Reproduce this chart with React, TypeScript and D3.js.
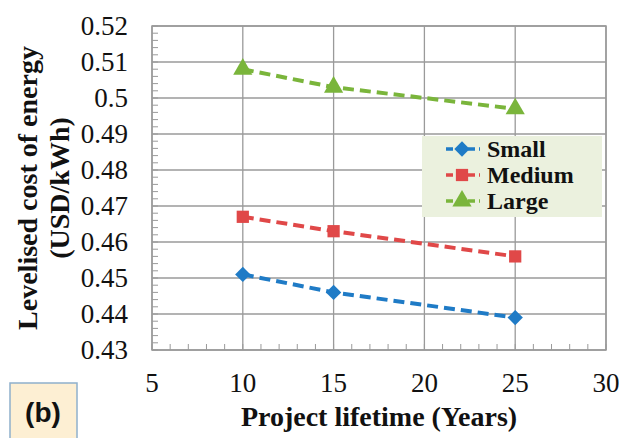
import React from "react";
import * as d3 from "d3";

// Project lifetime (years) and levelised cost of energy (USD/kWh)
const lifetimes = [10, 15, 25];
const smallCost = [0.451, 0.446, 0.439];
const mediumCost = [0.467, 0.463, 0.456];
const largeCost = [0.508, 0.503, 0.497];
const xTicks = [5, 10, 15, 20, 25, 30];
const yTicks = [0.43, 0.44, 0.45, 0.46, 0.47, 0.48, 0.49, 0.5, 0.51, 0.52];
const seriesNames = ["Small", "Medium", "Large"];

const W = 619;
const H = 438;
const plot = { left: 152, right: 606, top: 26, bottom: 350 };

const x = d3.scaleLinear().domain([5, 30]).range([plot.left, plot.right]);
const y = d3.scaleLinear().domain([0.43, 0.52]).range([plot.bottom, plot.top]);

const colors = ["#1F7BC6", "#E04848", "#7AB53B"];
const shapes = [d3.symbolDiamond2, d3.symbolSquare, d3.symbolTriangle];
const shapeSizes = [150, 150, 160];
const seriesValues = [smallCost, mediumCost, largeCost];

const serif = "Liberation Serif, Tinos, Times New Roman, DejaVu Serif, serif";
const sans = "Liberation Sans, Arial, DejaVu Sans, sans-serif";

function Marker({ idx, cx, cy }: { idx: number; cx: number; cy: number }) {
  const path = d3.symbol().type(shapes[idx]).size(shapeSizes[idx])()!;
  return <path d={path} transform={`translate(${cx},${cy})`} fill={colors[idx]} />;
}

export default function App() {
  const line = d3
    .line<[number, number]>()
    .x((d) => x(d[0]))
    .y((d) => y(d[1]));

  const yMinor = d3.range(0.43, 0.52 + 1e-9, 0.002);
  const xMinor = d3.range(5, 30 + 1e-9, 1);

  const legendX = 422;
  const legendY = 136;
  const legendW = 180;
  const legendH = 81;
  const rowY = [149, 175, 201];

  const serifStyle = { fontFamily: serif };

  return (
    <svg
      width={W}
      height={H}
      style={{ position: "absolute", left: 0, top: 0, background: "#fff" }}
    >
      {/* grid */}
      {yTicks.map((t) => (
        <line
          key={"gy" + t}
          x1={plot.left}
          x2={plot.right}
          y1={y(t)}
          y2={y(t)}
          stroke="#9a9a9a"
          strokeWidth={1.3}
        />
      ))}
      {xTicks.map((t) => (
        <line
          key={"gx" + t}
          x1={x(t)}
          x2={x(t)}
          y1={plot.top}
          y2={plot.bottom}
          stroke="#9a9a9a"
          strokeWidth={1.3}
        />
      ))}
      {/* minor ticks */}
      {yMinor.map((t, i) => (
        <line
          key={"my" + i}
          x1={plot.left}
          x2={plot.left + 6}
          y1={y(t)}
          y2={y(t)}
          stroke="#9a9a9a"
          strokeWidth={1}
        />
      ))}
      {xMinor.map((t, i) => (
        <line
          key={"mx" + i}
          x1={x(t)}
          x2={x(t)}
          y1={plot.bottom}
          y2={plot.bottom - 6}
          stroke="#9a9a9a"
          strokeWidth={1}
        />
      ))}
      <rect
        x={plot.left}
        y={plot.top}
        width={plot.right - plot.left}
        height={plot.bottom - plot.top}
        fill="none"
        stroke="#9a9a9a"
        strokeWidth={1.5}
      />

      {/* tick labels */}
      {yTicks.map((t) => (
        <text
          key={"ly" + t}
          x={128}
          y={y(t)}
          dy="0.35em"
          textAnchor="end"
          style={serifStyle}
          fontSize={27}
          fill="#111"
        >
          {d3.format("~g")(t)}
        </text>
      ))}
      {xTicks.map((t) => (
        <text
          key={"lx" + t}
          x={x(t)}
          y={392}
          textAnchor="middle"
          style={serifStyle}
          fontSize={27}
          fill="#111"
        >
          {t}
        </text>
      ))}

      {/* axis titles */}
      <text
        x={379}
        y={426}
        textAnchor="middle"
        style={serifStyle}
        fontWeight="bold"
        fontSize={28}
        fill="#111"
      >
        Project lifetime (Years)
      </text>
      <g transform="translate(37,188) rotate(-90)">
        <text
          x={0}
          y={0}
          textAnchor="middle"
          style={serifStyle}
          fontWeight="bold"
          fontSize={28}
          fill="#111"
        >
          Levelised cost of energy
        </text>
        <text
          x={0}
          y={32}
          textAnchor="middle"
          style={serifStyle}
          fontWeight="bold"
          fontSize={28}
          fill="#111"
        >
          (USD/kWh)
        </text>
      </g>

      {/* series */}
      {seriesValues.map((vals, si) => {
        const pts = lifetimes.map((l, i) => [l, vals[i]] as [number, number]);
        return (
          <g key={seriesNames[si]}>
            <path
              d={line(pts)!}
              fill="none"
              stroke={colors[si]}
              strokeWidth={4}
              strokeDasharray="11 6"
            />
            {pts.map((p, i) => (
              <Marker key={i} idx={si} cx={x(p[0])} cy={y(p[1])} />
            ))}
          </g>
        );
      })}

      {/* legend */}
      <rect x={legendX} y={legendY} width={legendW} height={legendH} fill="#EBF1DE" />
      {seriesNames.map((name, si) => (
        <g key={"lg" + name}>
          <line
            x1={446}
            x2={480}
            y1={rowY[si]}
            y2={rowY[si]}
            stroke={colors[si]}
            strokeWidth={3.5}
            strokeDasharray="7 4"
          />
          <Marker idx={si} cx={462} cy={rowY[si]} />
          <text
            x={487}
            y={rowY[si]}
            dy="0.35em"
            style={serifStyle}
            fontWeight="bold"
            fontSize={24}
            fill="#111"
          >
            {name}
          </text>
        </g>
      ))}

      {/* panel label */}
      <rect x={10} y={383} width={67} height={60} fill="#FDEFD3" stroke="#8FB0CC" strokeWidth={1.5} />
      <text
        x={43}
        y={422}
        textAnchor="middle"
        style={{ fontFamily: sans }}
        fontWeight="bold"
        fontSize={28}
        fill="#111"
      >
        (b)
      </text>
    </svg>
  );
}
